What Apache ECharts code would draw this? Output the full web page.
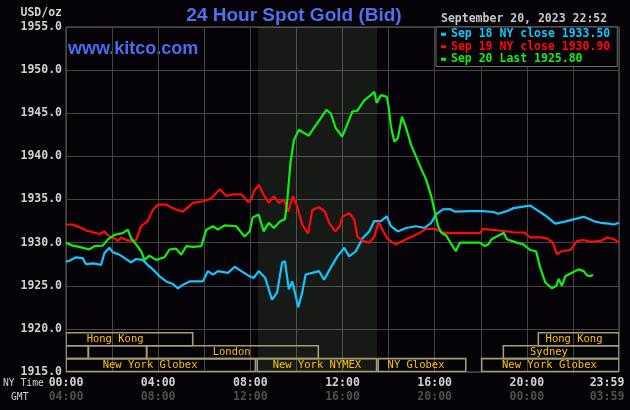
<!DOCTYPE html>
<html>
<head>
<meta charset="utf-8">
<script src="https://cdn.jsdelivr.net/npm/echarts@6/dist/echarts.min.js"></script>
<style>
  html, body { margin: 0; padding: 0; background: #050308; }
  #main { width: 630px; height: 410px; }
</style>
</head>
<body>
<div id="main"></div>
<script>
// hours after NY midnight, bid price
var sep18 = [[0,1927.8],[0.15,1927.9],[0.43,1928.3],[0.72,1928.2],[0.87,1927.5],[1.16,1927.6],[1.38,1927.5],[1.52,1927.4],[1.67,1928.8],[1.88,1929.4],[2.03,1928.9],[2.32,1928.6],[2.54,1928.2],[2.83,1927.7],[3.04,1928.1],[3.33,1928.0],[3.55,1927.4],[3.77,1926.9],[4.06,1926.1],[4.35,1925.5],[4.64,1925.2],[4.86,1924.7],[5.07,1925.1],[5.36,1925.5],[5.72,1925.5],[5.94,1925.5],[6.16,1926.7],[6.38,1926.3],[6.59,1926.7],[7.03,1926.5],[7.32,1927.2],[7.61,1926.7],[7.9,1926.2],[8.15,1925.9],[8.36,1926.7],[8.65,1925.9],[8.94,1923.4],[9.16,1924.2],[9.38,1927.7],[9.5,1927.85],[9.67,1924.6],[9.82,1925.5],[9.92,1924.4],[10.08,1922.5],[10.25,1924.2],[10.4,1926.3],[10.69,1926.5],[10.98,1926.7],[11.2,1925.7],[11.49,1927.1],[11.78,1928.4],[12.07,1929.4],[12.29,1928.4],[12.58,1929.0],[12.87,1930.5],[13.16,1931.3],[13.38,1932.5],[13.67,1932.5],[13.92,1933.05],[14.1,1931.9],[14.4,1931.3],[14.76,1931.7],[15.19,1931.9],[15.56,1931.7],[15.85,1932.3],[16.07,1933.3],[16.36,1933.85],[16.65,1933.9],[16.87,1933.6],[17.53,1933.65],[18.1,1933.65],[18.54,1933.55],[18.76,1933.35],[19.13,1933.65],[19.42,1934.0],[19.78,1934.15],[20.14,1934.3],[20.43,1933.8],[20.8,1933.15],[21.23,1932.2],[21.6,1932.4],[22.03,1932.7],[22.47,1933.0],[22.9,1932.5],[23.2,1932.3],[23.56,1932.2],[23.78,1932.1],[24,1932.3]];
var sep19 = [[0,1932.1],[0.29,1932.1],[0.58,1931.8],[0.87,1931.4],[1.16,1931.2],[1.45,1931.0],[1.67,1931.3],[1.88,1930.7],[2.1,1930.5],[2.25,1930.2],[2.39,1930.6],[2.61,1930.3],[2.9,1930.2],[3.04,1930.3],[3.26,1931.9],[3.55,1932.5],[3.77,1933.8],[3.99,1934.4],[4.35,1934.4],[4.71,1933.9],[5.07,1933.6],[5.51,1934.6],[5.94,1934.8],[6.3,1935.1],[6.67,1936.2],[6.96,1935.4],[7.25,1935.6],[7.61,1935.6],[7.9,1934.7],[8.04,1935.0],[8.15,1935.9],[8.36,1936.7],[8.58,1935.55],[8.8,1934.6],[9.02,1935.4],[9.24,1934.6],[9.45,1935.0],[9.64,1933.6],[9.85,1935.4],[10.03,1934.2],[10.25,1932.1],[10.51,1931.05],[10.69,1933.8],[10.98,1934.1],[11.24,1933.6],[11.42,1932.3],[11.68,1931.3],[11.88,1931.9],[12.0,1933.0],[12.29,1933.4],[12.51,1932.7],[12.65,1930.7],[12.87,1930.2],[13.16,1930.0],[13.38,1930.7],[13.57,1932.4],[13.74,1931.5],[13.96,1930.4],[14.32,1929.8],[14.76,1930.4],[15.19,1930.9],[15.63,1931.6],[16.0,1931.6],[16.36,1931.2],[16.58,1931.1],[17.24,1931.1],[17.96,1931.1],[18.1,1931.6],[18.4,1931.5],[18.98,1931.35],[19.4,1931.2],[19.92,1931.15],[20.14,1930.6],[20.58,1930.6],[20.87,1930.5],[21.13,1930.0],[21.3,1928.65],[21.52,1929.0],[21.9,1929.15],[22.18,1930.2],[22.47,1930.3],[22.76,1930.1],[23.2,1930.2],[23.49,1930.6],[23.78,1930.4],[24,1930.0]];
var sep20 = [[0,1930.0],[0.29,1929.65],[0.58,1929.5],[1.01,1929.2],[1.23,1929.6],[1.59,1929.65],[1.81,1930.35],[2.1,1930.9],[2.46,1931.1],[2.68,1931.5],[2.83,1930.5],[3.04,1929.8],[3.26,1929.0],[3.41,1928.0],[3.62,1928.5],[3.91,1928.0],[4.28,1928.3],[4.49,1929.2],[4.78,1929.3],[5.0,1928.6],[5.22,1929.6],[5.51,1929.5],[5.87,1929.6],[6.09,1931.5],[6.38,1931.9],[6.59,1931.5],[6.88,1932.0],[7.39,1931.9],[7.75,1930.7],[7.97,1931.3],[8.1,1932.9],[8.36,1933.25],[8.58,1931.3],[8.8,1932.3],[9.02,1931.7],[9.31,1932.5],[9.5,1932.7],[9.6,1934.8],[9.74,1939.2],[9.89,1941.9],[10.11,1943.1],[10.33,1942.7],[10.54,1942.4],[10.76,1943.3],[11.05,1944.4],[11.3,1945.4],[11.49,1945.0],[11.7,1943.3],[11.99,1942.3],[12.22,1943.8],[12.43,1945.2],[12.65,1945.3],[12.94,1946.5],[13.23,1947.1],[13.38,1947.5],[13.48,1946.2],[13.67,1947.1],[13.92,1946.9],[14.0,1945.8],[14.1,1943.5],[14.25,1941.7],[14.4,1942.1],[14.58,1944.6],[14.76,1943.3],[14.98,1941.3],[15.19,1940.0],[15.41,1938.6],[15.63,1937.3],[15.85,1935.4],[16.0,1933.6],[16.15,1931.9],[16.29,1931.15],[16.51,1930.8],[16.73,1929.8],[16.92,1929.0],[17.09,1930.0],[17.96,1930.0],[18.18,1929.6],[18.33,1929.8],[18.47,1930.4],[18.76,1930.8],[19.0,1931.15],[19.13,1930.4],[19.56,1930.0],[19.85,1929.8],[20.14,1929.15],[20.4,1929.0],[20.58,1927.1],[20.8,1925.4],[21.09,1924.7],[21.28,1925.0],[21.38,1925.8],[21.52,1925.0],[21.67,1926.1],[21.96,1926.5],[22.25,1926.9],[22.47,1926.7],[22.61,1926.2],[22.76,1926.1],[22.87,1926.3]];

var seriesNames = ['Sep 18 NY close 1933.50', 'Sep 19 NY close 1930.90', 'Sep 20 Last 1925.80'];
var seriesColors = ['#10c8ff', '#ff0a0a', '#10f010'];

var tickHours = [0, 4, 8, 12, 16, 20, 24];
var nyTicks  = ['00:00', '04:00', '08:00', '12:00', '16:00', '20:00', '23:59'];
var gmtTicks = ['04:00', '08:00', '12:00', '16:00', '20:00', '00:00', '03:59'];

// trading sessions: row 0 = Asia, 1 = Europe, 2 = New York
var sessions = [
  {name: 'Hong Kong',       row: 0, start: 0,     end: 5.5,   mid: 2.13},
  {name: 'Hong Kong',       row: 0, start: 20.5,  end: 24,    mid: 22.05},
  {name: '',                row: 1, start: 0,     end: 0.97,  mid: 0.5},
  {name: '',                row: 1, start: 0.97,  end: 3.5,   mid: 2.2},
  {name: 'London',          row: 1, start: 3.5,   end: 10.95, mid: 7.19},
  {name: 'Sydney',          row: 1, start: 18.98, end: 24,    mid: 20.96},
  {name: 'New York Globex', row: 2, start: 0,     end: 8.22,  mid: 3.65},
  {name: 'New York NYMEX',  row: 2, start: 8.3,   end: 13.48, mid: 10.89},
  {name: 'NY Globex',       row: 2, start: 13.55, end: 17.35, mid: 15.19},
  {name: 'New York Globex', row: 2, start: 18.04, end: 24,    mid: 20.98}
];
var nymexHours = [8.33, 13.5];

var mono = '"DejaVu Sans Mono", "Liberation Mono", monospace';
var myChart = echarts.init(document.getElementById('main'));

var ROW_TOP = 1919.55, ROW_H = 1.5;

var option = {
  backgroundColor: '#050308',
  animation: false,
  grid: {
    left: 66, right: 11, top: 27, bottom: 38,
    show: true, borderColor: '#6a6a6a', borderWidth: 1,
    backgroundColor: 'transparent',
    outerBoundsMode: 'none'
  },
  legend: {
    orient: 'vertical',
    left: 436, top: 27,
    padding: [1, 7, 1, 5],
    itemGap: 0, itemWidth: 5, itemHeight: 3,
    icon: 'rect',
    backgroundColor: '#050308',
    borderColor: '#6a6a6a', borderWidth: 1,
    selectedMode: false,
    textStyle: {fontFamily: mono, fontSize: 11.5, fontWeight: 'bold', lineHeight: 12.5},
    data: seriesNames.map(function (n, i) {
      return {name: n, textStyle: {color: seriesColors[i]}};
    })
  },
  xAxis: {
    type: 'value', min: 0, max: 24, interval: 2,
    axisLine: {show: false}, axisTick: {show: false},
    splitLine: {lineStyle: {color: '#444444', width: 1}},
    axisLabel: {
      margin: 4,
      formatter: function (v) {
        var i = tickHours.indexOf(v);
        if (i < 0) return '';
        if (v === 24) return '{c|' + nyTicks[i] + '}\n{cg|' + gmtTicks[i] + '}';
        return '{a|' + nyTicks[i] + '}\n{g|' + gmtTicks[i] + '}';
      },
      rich: {
        a:  {color: '#d2d2d2', fontFamily: mono, fontSize: 11.5, fontWeight: 'bold', lineHeight: 14},
        g:  {color: '#505050', fontFamily: mono, fontSize: 11.5, fontWeight: 'bold', lineHeight: 14},
        c:  {color: '#d2d2d2', fontFamily: mono, fontSize: 11.5, fontWeight: 'bold', lineHeight: 14, padding: [0, 24, 0, 0]},
        cg: {color: '#505050', fontFamily: mono, fontSize: 11.5, fontWeight: 'bold', lineHeight: 14, padding: [0, 24, 0, 0]}
      }
    }
  },
  yAxis: {
    type: 'value', min: 1915, max: 1955, interval: 5,
    axisLine: {show: false}, axisTick: {show: false},
    splitLine: {lineStyle: {color: '#444444', width: 1}},
    axisLabel: {
      margin: 4, color: '#d2d2d2',
      fontFamily: mono, fontSize: 11.5, fontWeight: 'bold',
      formatter: function (v) { return v.toFixed(1); }
    }
  },
  graphic: [
    {type: 'text', x: 62, y: 13, style: {text: 'USD/oz', fill: '#d2d2d2', font: 'bold 11.5px ' + mono, align: 'right', verticalAlign: 'middle'}},
    {type: 'text', x: 294, y: 16, style: {text: '24 Hour Spot Gold (Bid)', fill: '#5070f0', font: 'bold 19px "Liberation Sans", Arial, sans-serif', align: 'center', verticalAlign: 'middle'}},
    {type: 'text', x: 68, y: 49, style: {text: 'www.kitco.com', fill: '#4a6cf0', font: 'bold 18px "Liberation Sans", Arial, sans-serif', align: 'left', verticalAlign: 'middle'}},
    {type: 'text', x: 441, y: 19.5, style: {text: 'September 20, 2023 22:52', fill: '#c8c8c8', font: 'bold 11.5px ' + mono, align: 'left', verticalAlign: 'middle'}},
    {type: 'text', x: 3, y: 383, style: {text: 'NY Time', fill: '#d2d2d2', font: '9.7px ' + mono, align: 'left', verticalAlign: 'middle'}},
    {type: 'text', x: 11, y: 397, style: {text: 'GMT', fill: '#d2d2d2', font: '9.7px ' + mono, align: 'left', verticalAlign: 'middle'}}
  ],
  series: [
    {
      type: 'custom',
      name: 'sessions',
      clip: true,
      silent: true,
      z: 1,
      data: sessions.map(function (s) { return [s.start, s.end, s.row, s.mid]; }),
      renderItem: function (params, api) {
        var s = sessions[params.dataIndex];
        var top = ROW_TOP - api.value(2) * ROW_H;
        var p0 = api.coord([api.value(0), top]);
        var p1 = api.coord([api.value(1), top - ROW_H]);
        var lc = api.coord([api.value(3), top - ROW_H / 2]);
        return {
          type: 'group',
          children: [
            {type: 'rect', shape: {x: p0[0], y: p0[1], width: p1[0] - p0[0], height: p1[1] - p0[1]},
             style: {fill: 'none', stroke: '#a39e72', lineWidth: 1.6}},
            {type: 'text', x: lc[0], y: lc[1] + 0.5,
             style: {text: s.name, fill: '#ffc20a', font: '10.5px ' + mono, align: 'center', verticalAlign: 'middle'}}
          ]
        };
      },
      markArea: {
        silent: true,
        itemStyle: {color: 'rgba(175,223,148,0.1)'},
        data: [[{xAxis: nymexHours[0]}, {xAxis: nymexHours[1]}]]
      }
    },
    {name: seriesNames[0], type: 'line', data: sep18, showSymbol: false, z: 3,
     color: seriesColors[0], lineStyle: {width: 2.2, color: seriesColors[0]}},
    {name: seriesNames[1], type: 'line', data: sep19, showSymbol: false, z: 3,
     color: seriesColors[1], lineStyle: {width: 2.2, color: seriesColors[1]}},
    {name: seriesNames[2], type: 'line', data: sep20, showSymbol: false, z: 3,
     color: seriesColors[2], lineStyle: {width: 2.2, color: seriesColors[2]}}
  ]
};
myChart.setOption(option);
</script>
</body>
</html>
